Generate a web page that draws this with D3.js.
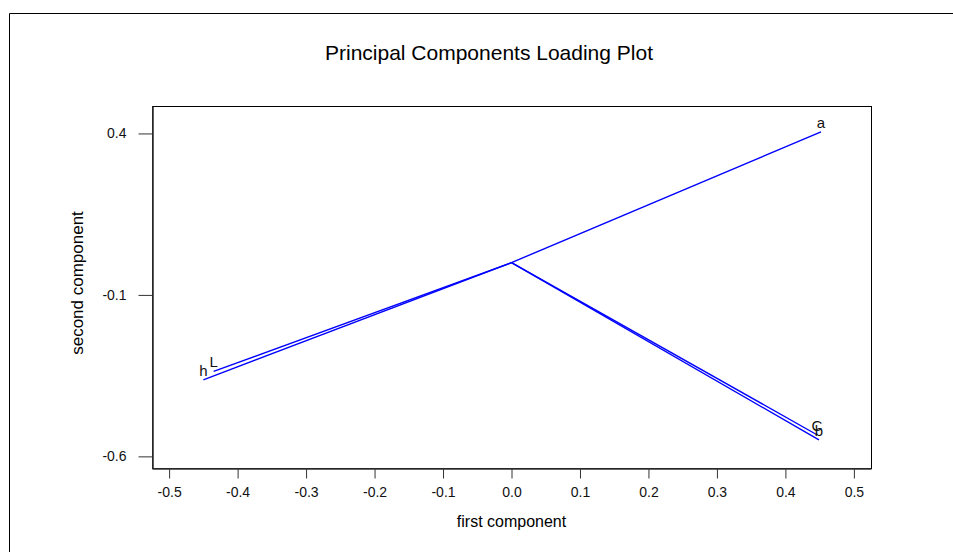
<!DOCTYPE html>
<html>
<head>
<meta charset="utf-8">
<script src="https://cdn.jsdelivr.net/npm/d3@7"></script>
<style>
  body { margin: 0; background: #fff; }
  svg { display: block; font-family: "Liberation Sans", Arial, sans-serif; }
  .tick text { font-size: 14px; fill: #111; }
  .tick line { stroke: #333; }
</style>
</head>
<body>
<svg width="953" height="552"></svg>
<script>
// loadings
var names = ["a", "b", "c", "h", "L"],
	labels = ["a", "b", "C", "h", "L"],
	first = [0.452, 0.449, 0.446, -0.450, -0.435],
	second = [0.405, -0.549, -0.533, -0.363, -0.337];

var xTicks = [-0.5, -0.4, -0.3, -0.2, -0.1, 0.0, 0.1, 0.2, 0.3, 0.4, 0.5],
	yTicks = [0.4, -0.1, -0.6];

var svg = d3.select("svg"),
	box = { left: 152, top: 106, right: 871, bottom: 468 };

var x = d3.scaleLinear().domain([-0.525, 0.525]).range([box.left, box.right]),
	y = d3.scaleLinear().domain([-0.636, 0.485]).range([box.bottom, box.top]);

// outer frame, runs off the right and bottom edge
svg.append("path")
	.attr("d", "M9.5,552V13.5H953")
	.attr("fill", "none")
	.attr("stroke", "#000");

// title
svg.append("text")
	.attr("x", 489).attr("y", 60)
	.attr("text-anchor", "middle")
	.attr("font-size", 21)
	.text("Principal Components Loading Plot");

// plot box
svg.append("rect")
	.attr("x", box.left + 0.5).attr("y", box.top + 0.5)
	.attr("width", box.right - box.left).attr("height", box.bottom - box.top)
	.attr("fill", "none").attr("stroke", "#000");

// axes
var xAxis = svg.append("g")
	.attr("transform", "translate(0," + (box.bottom + 0.5) + ")")
	.call(d3.axisBottom(x).tickValues(xTicks).tickSize(10).tickSizeOuter(0).tickPadding(9)
		.tickFormat(function(d) { return d.toFixed(1); }));
xAxis.select(".domain").attr("stroke", "#333").attr("stroke-width", 1.6);

var yAxis = svg.append("g")
	.attr("transform", "translate(" + (box.left + 0.5) + ",0)")
	.call(d3.axisLeft(y).tickValues(yTicks).tickSize(14).tickSizeOuter(0).tickPadding(12)
		.tickFormat(function(d) { return d.toFixed(1); }));
yAxis.select(".domain").attr("stroke", "#333").attr("stroke-width", 1.6);

// axis titles
svg.append("text")
	.attr("x", (box.left + box.right) / 2).attr("y", 527)
	.attr("text-anchor", "middle")
	.attr("font-size", 16)
	.text("first component");

svg.append("text")
	.attr("transform", "translate(83," + ((box.top + box.bottom) / 2 - 4) + ") rotate(-90)")
	.attr("text-anchor", "middle")
	.attr("font-size", 17)
	.text("second component");

// loading vectors from the origin
var data = names.map(function(n, i) {
	return { name: n, label: labels[i], pc1: first[i], pc2: second[i] };
});

svg.append("g").selectAll("line").data(data).enter().append("line")
	.attr("x1", x(0)).attr("y1", y(0))
	.attr("x2", function(d) { return x(d.pc1); })
	.attr("y2", function(d) { return y(d.pc2); })
	.attr("stroke", "#0000ff")
	.attr("stroke-width", 1.4);

svg.append("g").selectAll("text").data(data).enter().append("text")
	.attr("x", function(d) { return x(d.pc1); })
	.attr("y", function(d) { return y(d.pc2) - 4; })
	.attr("text-anchor", "middle")
	.attr("font-size", 15)
	.attr("fill", "#111")
	.text(function(d) { return d.label; });
</script>
</body>
</html>
